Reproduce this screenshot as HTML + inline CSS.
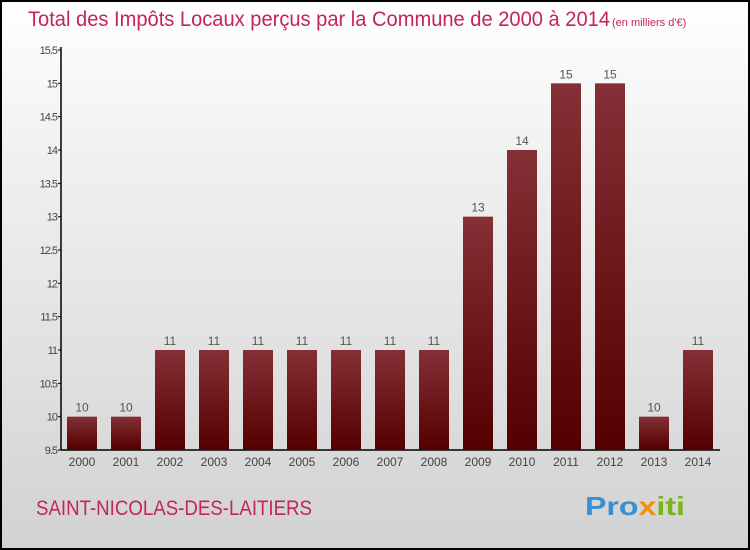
<!DOCTYPE html>
<html><head><meta charset="utf-8"><style>
body{margin:0}
#c{width:750px;height:550px;position:relative;box-sizing:border-box;border:2px solid #000;background:linear-gradient(#ffffff,#f2f2f2 25%,#d2d2d2);font-family:"Liberation Sans",sans-serif;overflow:hidden}
</style></head><body>
<div id="c">
<svg id="s" width="750" height="550" style="position:absolute;left:-2px;top:-2px">
<defs><linearGradient id="g" x1="0" y1="0" x2="0" y2="1"><stop offset="0" stop-color="#843036"/><stop offset="1" stop-color="#520000"/></linearGradient></defs>
<text x="28" y="26" font-size="21" fill="#c4245a" textLength="582" lengthAdjust="spacingAndGlyphs">Total des Impôts Locaux perçus par la Commune de 2000 à 2014</text>
<text x="612" y="26" font-size="11" fill="#c4245a">(en milliers d'€)</text>
<text x="36" y="515" font-size="21" fill="#c4245a" textLength="276" lengthAdjust="spacingAndGlyphs">SAINT-NICOLAS-DES-LAITIERS</text>
<text x="585" y="515" font-size="26" font-weight="bold" textLength="100" lengthAdjust="spacingAndGlyphs"><tspan fill="#3a8fd0">Pro</tspan><tspan fill="#f39200">x</tspan><tspan fill="#7ab51d">iti</tspan></text>
<g id="ax"></g><g id="bars"></g>
</svg></div>
<script>
const years=["2000","2001","2002","2003","2004","2005","2006","2007","2008","2009","2010","2011","2012","2013","2014"];
const values=[10,10,11,11,11,11,11,11,11,13,14,15,15,10,11];
const labels=["10","10","11","11","11","11","11","11","11","13","14","15","15","10","11"];
const ticks=[9.5,10,10.5,11,11.5,12,12.5,13,13.5,14,14.5,15,15.5];
const NS="http://www.w3.org/2000/svg";
const y0=450,y1=50,vmin=9.5,vmax=15.5;
const Y=v=>y0-(v-vmin)/(vmax-vmin)*(y0-y1);
const X=i=>82+i*44;
function mk(t,a,p){const e=document.createElementNS(NS,t);for(const k in a)e.setAttribute(k,a[k]);p.appendChild(e);return e;}
const ax=document.getElementById('ax'),bg=document.getElementById('bars');
const yl=mk('line',{x1:61,y1:y1-3,x2:61,y2:y0,stroke:'#000','stroke-width':1.5},ax);


const xl=mk('line',{x1:61,y1:y0,x2:720,y2:y0,stroke:'#000','stroke-width':1.5},ax);


ticks.forEach(t=>{const y=Y(t);
mk('line',{x1:58,y1:y,x2:61,y2:y,stroke:'#000'},ax);
const tx=mk('text',{x:57,y:y+4,'font-size':11,fill:'#444','text-anchor':'end','letter-spacing':'-1'},ax);tx.textContent=String(t);

});
years.forEach((yr,i)=>{const x=X(i),v=values[i];
const r=mk('rect',{x:x-15,y:Y(v),width:30,height:y0-Y(v),fill:'url(#g)'},bg);


const l=mk('text',{x:x,y:Y(v)-5,'font-size':12,fill:'#555','text-anchor':'middle'},bg);l.textContent=labels[i];


const t=mk('text',{x:x,y:466,'font-size':12,fill:'#444','text-anchor':'middle'},bg);t.textContent=yr;

});
</script>
</body></html>
